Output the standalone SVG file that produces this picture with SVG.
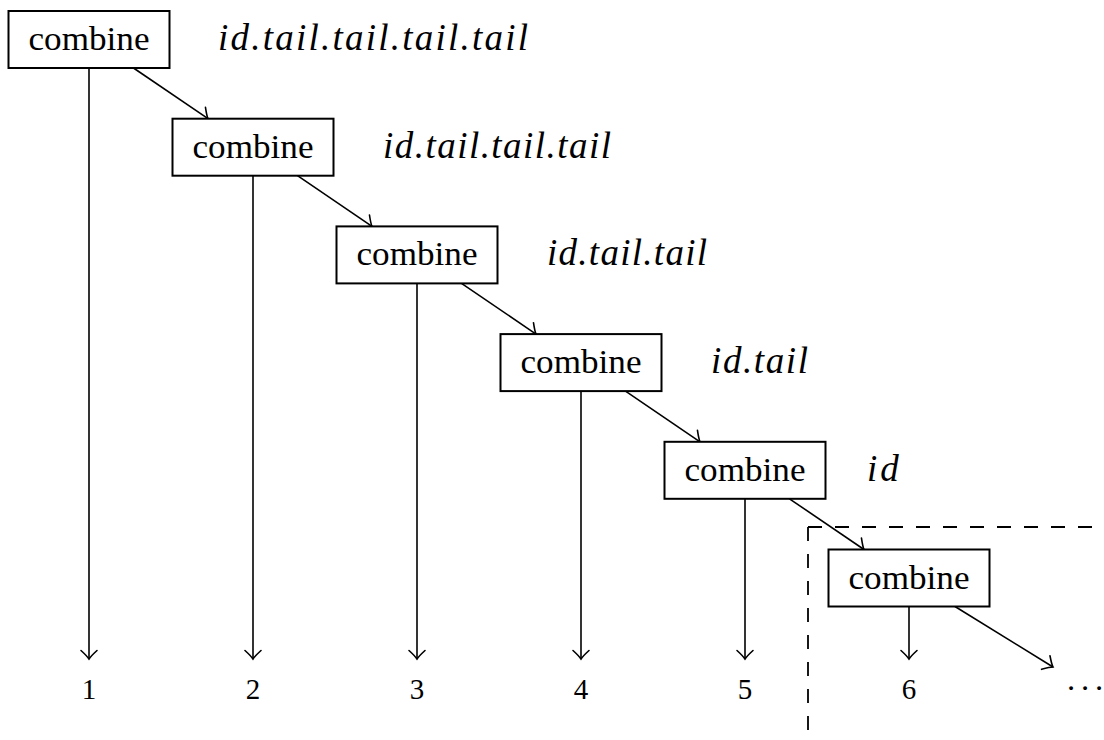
<svg xmlns="http://www.w3.org/2000/svg" width="1104" height="740" viewBox="0 0 1104 740">
<defs>
<marker id="arr" markerUnits="userSpaceOnUse" markerWidth="20" markerHeight="20" viewBox="-12 -10 14 20" refX="0" refY="0" orient="auto">
<path d="M -8.5 -8 Q -2.5 -1.5 0 0 Q -2.5 1.5 -8.5 8" fill="none" stroke="#000" stroke-width="1.6" stroke-linecap="round"/>
</marker>
</defs>
<style>
.box{fill:#fff;stroke:#000;stroke-width:2}
.lbl{font-family:"Liberation Serif","DejaVu Serif",serif;font-size:34px;fill:#000}
.it{font-family:"Liberation Serif","DejaVu Serif",serif;font-size:37px;font-style:italic;fill:#000}
.num{font-family:"Liberation Serif","DejaVu Serif",serif;font-size:29px;fill:#000;text-anchor:middle}
.c{stroke:#000;stroke-width:1.6;fill:none;marker-end:url(#arr)}
.dash{stroke:#000;stroke-width:1.8;fill:none;stroke-dasharray:14 13}
</style>
<rect width="1104" height="740" fill="#fff"/>
<g id="frame">
<line class="dash" x1="808" y1="527" x2="808" y2="740"/>
<line class="dash" x1="808" y1="527" x2="1104" y2="527"/>
</g>
<g id="connectors">
<line class="c" x1="89" y1="68" x2="89" y2="659"/>
<line class="c" x1="253" y1="175.7" x2="253" y2="659"/>
<line class="c" x1="417" y1="283.4" x2="417" y2="659"/>
<line class="c" x1="581" y1="391.1" x2="581" y2="659"/>
<line class="c" x1="745" y1="498.8" x2="745" y2="659"/>
<line class="c" x1="909" y1="606.5" x2="909" y2="659"/>
<line class="c" x1="133.5" y1="68" x2="208" y2="118.7"/>
<line class="c" x1="297.5" y1="175.7" x2="372" y2="226.4"/>
<line class="c" x1="461.5" y1="283.4" x2="536" y2="334.1"/>
<line class="c" x1="625.5" y1="391.1" x2="700" y2="441.8"/>
<line class="c" x1="789.5" y1="498.8" x2="864" y2="549.5"/>
<line class="c" x1="955" y1="606.5" x2="1053" y2="667"/>
</g>
<g id="n1"><rect class="box" x="8.5" y="11" width="161" height="57"/><text class="lbl" x="89" y="50" text-anchor="middle" textLength="121" lengthAdjust="spacingAndGlyphs">combine</text></g>
<g id="n2"><rect class="box" x="172.5" y="118.7" width="161" height="57"/><text class="lbl" x="253" y="157.7" text-anchor="middle" textLength="121" lengthAdjust="spacingAndGlyphs">combine</text></g>
<g id="n3"><rect class="box" x="336.5" y="226.4" width="161" height="57"/><text class="lbl" x="417" y="265.4" text-anchor="middle" textLength="121" lengthAdjust="spacingAndGlyphs">combine</text></g>
<g id="n4"><rect class="box" x="500.5" y="334.1" width="161" height="57"/><text class="lbl" x="581" y="373.1" text-anchor="middle" textLength="121" lengthAdjust="spacingAndGlyphs">combine</text></g>
<g id="n5"><rect class="box" x="664.5" y="441.8" width="161" height="57"/><text class="lbl" x="745" y="480.8" text-anchor="middle" textLength="121" lengthAdjust="spacingAndGlyphs">combine</text></g>
<g id="n6"><rect class="box" x="828.5" y="549.5" width="161" height="57"/><text class="lbl" x="909" y="588.5" text-anchor="middle" textLength="121" lengthAdjust="spacingAndGlyphs">combine</text></g>
<g id="labels">
<text class="it" x="218" y="50" textLength="310" lengthAdjust="spacing">id.tail.tail.tail.tail</text>
<text class="it" x="383" y="157.7" textLength="228" lengthAdjust="spacing">id.tail.tail.tail</text>
<text class="it" x="547" y="265.4" textLength="160" lengthAdjust="spacing">id.tail.tail</text>
<text class="it" x="711" y="373.1" textLength="97" lengthAdjust="spacing">id.tail</text>
<text class="it" x="867" y="480.8" letter-spacing="3">id</text>
</g>
<g id="outputs">
<text class="num" x="89" y="699">1</text>
<text class="num" x="253" y="699">2</text>
<text class="num" x="417" y="699">3</text>
<text class="num" x="581" y="699">4</text>
<text class="num" x="745" y="699">5</text>
<text class="num" x="909" y="699">6</text>
<text class="num" x="1071 1085 1099" y="699" style="font-size:32px">···</text>
</g>
</svg>
